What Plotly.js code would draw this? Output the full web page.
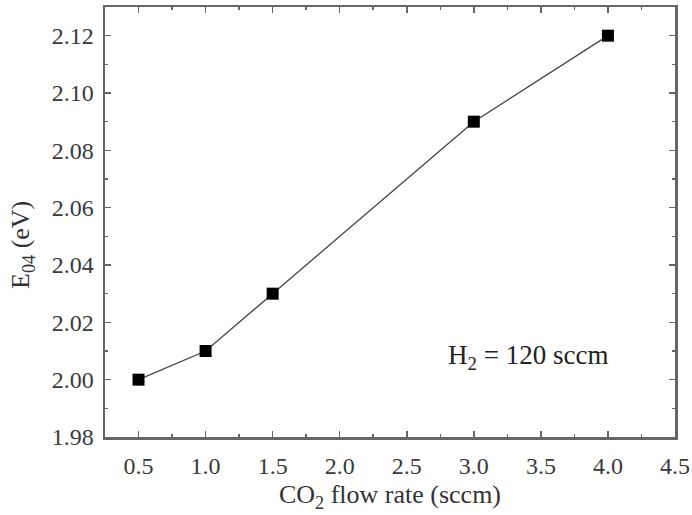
<!DOCTYPE html>
<html>
<head>
<meta charset="utf-8">
<script src="https://cdn.plot.ly/plotly-3.0.1.min.js"></script>
<style>html,body{margin:0;padding:0;background:#fff;}#chart{width:692px;height:515px;}</style>
</head>
<body>
<div id="chart"></div>
<script>
const co2Flow = [0.5, 1.0, 1.5, 3.0, 4.0];
const e04 = [2.00, 2.01, 2.03, 2.09, 2.12];
const xTickVals = [0.5, 1.0, 1.5, 2.0, 2.5, 3.0, 3.5, 4.0, 4.5];
const yTickVals = [1.98, 2.00, 2.02, 2.04, 2.06, 2.08, 2.10, 2.12];

const fontFam = 'Liberation Serif, Times New Roman, serif';
const axisCommon = {
  showgrid: false, zeroline: false, showline: true, linecolor: '#666', linewidth: 2.5,
  mirror: 'allticks', ticks: 'inside', ticklen: 6, tickwidth: 1.5, tickcolor: '#666',
  tickfont: {family: fontFam, size: 24, color: '#3a3a3a'}
};

const trace = {
  x: co2Flow, y: e04, type: 'scatter', mode: 'lines+markers',
  line: {color: '#444', width: 1.3},
  marker: {symbol: 'square', size: 12, color: '#000'}
};

const layout = {
  width: 692, height: 515,
  font: {family: fontFam},
  margin: {l: 105, r: 17, t: 7, b: 78},
  paper_bgcolor: '#fff', plot_bgcolor: '#fff',
  showlegend: false,
  xaxis: Object.assign({}, axisCommon, {
    range: [0.25, 4.5], tickvals: xTickVals, ticktext: xTickVals.map(v => v.toFixed(1)),
    ticklabelstandoff: 6,
    minor: {ticks: 'inside', ticklen: 3, tickcolor: '#666', dtick: 0.25, tick0: 0.25},
    title: {text: 'CO<sub>2</sub> flow rate (sccm)', font: {family: fontFam, size: 26, color: '#333'}, standoff: 7}
  }),
  yaxis: Object.assign({}, axisCommon, {
    range: [1.98, 2.13], tickvals: yTickVals, ticktext: yTickVals.map(v => v.toFixed(2)),
    ticklabelstandoff: 4,
    minor: {ticks: 'inside', ticklen: 3, tickcolor: '#666', dtick: 0.01, tick0: 1.98}
  }),
  annotations: [{
    x: (22 - 105) / (692 - 105 - 17), y: 2.047, xref: 'paper', yref: 'y',
    xanchor: 'center', yanchor: 'middle',
    text: 'E<sub>04</sub> (eV)', showarrow: false, textangle: -90,
    font: {family: fontFam, size: 26, color: '#333'}
  }, {
    x: 4.015, y: 2.008, xref: 'x', yref: 'y', xanchor: 'right', yanchor: 'middle',
    text: 'H<sub>2</sub> = 120 sccm', showarrow: false,
    font: {family: fontFam, size: 27, color: '#222'}
  }]
};

Plotly.newPlot('chart', [trace], layout, {displayModeBar: false, staticPlot: true});
</script>
</body>
</html>
